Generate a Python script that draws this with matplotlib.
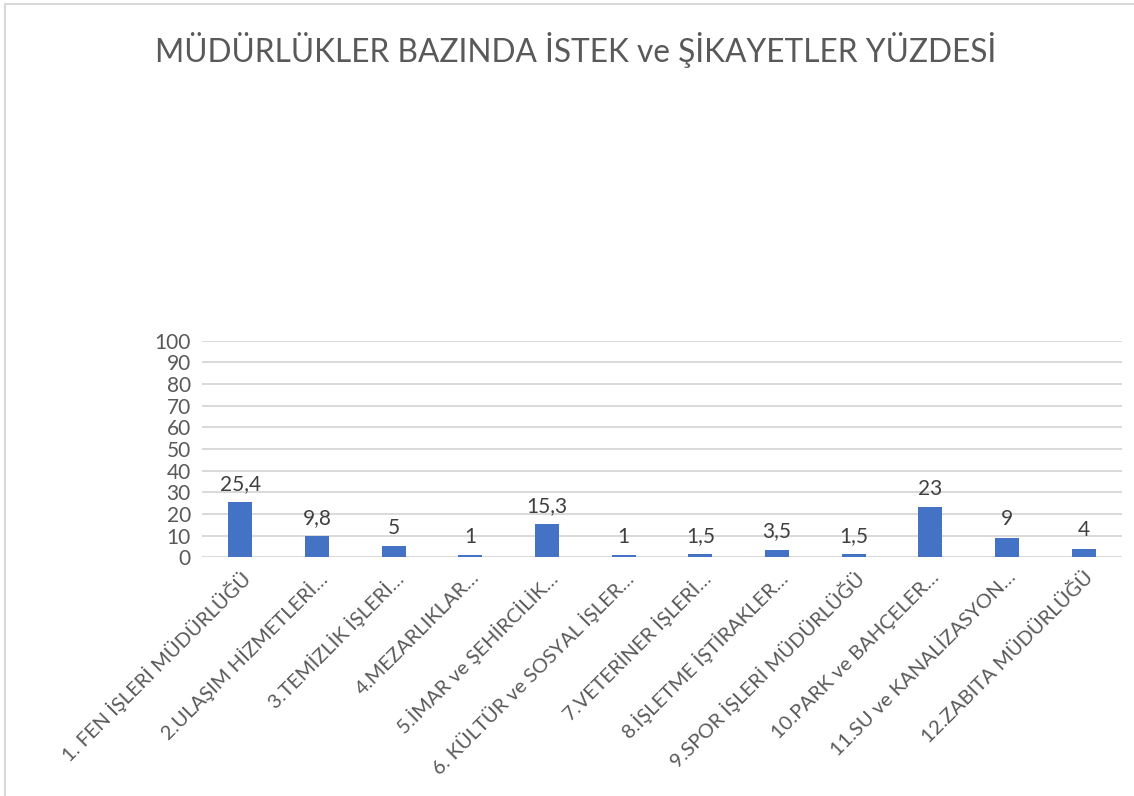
import matplotlib
matplotlib.use("Agg")
import matplotlib.pyplot as plt
from matplotlib.patches import Rectangle

plt.rcParams["font.family"] = ["Lato", "DejaVu Sans"]

categories = [
    "1. FEN İŞLERİ MÜDÜRLÜĞÜ",
    "2.ULAŞIM HİZMETLERİ…",
    "3.TEMİZLİK İŞLERİ…",
    "4.MEZARLIKLAR…",
    "5.İMAR ve ŞEHİRCİLİK…",
    "6. KÜLTÜR ve SOSYAL İŞLER…",
    "7.VETERİNER İŞLERİ…",
    "8.İŞLETME İŞTİRAKLER…",
    "9.SPOR İŞLERİ MÜDÜRLÜĞÜ",
    "10.PARK ve BAHÇELER…",
    "11.SU ve KANALİZASYON…",
    "12.ZABITA MÜDÜRLÜĞÜ",
]
percentages = [25.4, 9.8, 5, 1, 15.3, 1, 1.5, 3.5, 1.5, 23, 9, 4]
y_ticks = [0, 10, 20, 30, 40, 50, 60, 70, 80, 90, 100]
title = "MÜDÜRLÜKLER BAZINDA İSTEK ve ŞİKAYETLER YÜZDESİ"

W, H = 1134, 796
fig = plt.figure(figsize=(W / 100, H / 100), dpi=100)
fig.patch.set_facecolor("white")

# chart frame
fig.patches.append(Rectangle((5 / W, -0.05), 1.2, 1 - 4 / H + 0.05,
                             transform=fig.transFigure, fill=False,
                             edgecolor="#d9d9d9", linewidth=1.5))

ax = fig.add_axes([202 / W, 1 - 557.3 / H, (1122 - 202) / W, (557.3 - 340.7) / H])
x = list(range(len(categories)))
bars = ax.bar(x, percentages, width=0.31, color="#4472C4", zorder=3)

ax.set_xlim(-0.5, len(categories) - 0.5)
ax.set_ylim(0, 100)
ax.set_yticks(y_ticks)
ax.set_yticklabels([str(v) for v in y_ticks], fontsize=15, color="#595959")
ax.yaxis.grid(True, color="#d9d9d9", linewidth=1.4, zorder=0)
ax.tick_params(axis="both", length=0, pad=8)
for s in ax.spines.values():
    s.set_visible(False)

ax.set_xticks(x)
ax.set_xticklabels(categories, rotation=45, ha="right", va="top",
                   rotation_mode="anchor", fontsize=14.5, color="#595959")
ax.tick_params(axis="x", pad=8)

for rect, v in zip(bars, percentages):
    ax.annotate(f"{v:g}".replace(".", ","),
                (rect.get_x() + rect.get_width() / 2, rect.get_height()),
                xytext=(0, 6), textcoords="offset points",
                ha="center", va="bottom", fontsize=15, color="#404040")

fig.text(576 / W, 1 - 50 / H, title, ha="center", va="center",
         fontsize=22.8, color="#595959")

fig.savefig("out.png", dpi=100)
